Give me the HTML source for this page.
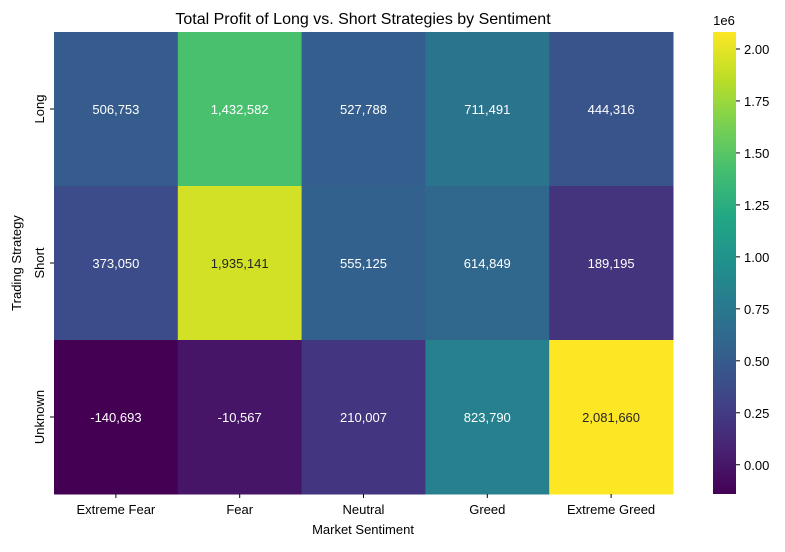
<!DOCTYPE html>
<html><head><meta charset="utf-8"><style>
body{margin:0;background:#fff;}
svg text{font-family:"Liberation Sans","DejaVu Sans",sans-serif;}
</style></head><body>
<svg id="chart" width="785" height="547" xmlns="http://www.w3.org/2000/svg">
<defs><linearGradient id="cbgrad" x1="0" y1="1" x2="0" y2="0"></linearGradient></defs>
<text x="363" y="24" font-size="16" text-anchor="middle" fill="#000">Total Profit of Long vs. Short Strategies by Sentiment</text>
<g id="cells"></g>
<g id="xaxis"></g>
<g id="yaxis"></g>
<g id="cbar"></g>
<text x="363" y="534" font-size="13" text-anchor="middle">Market Sentiment</text>
<text transform="translate(21,263) rotate(-90)" font-size="13" text-anchor="middle">Trading Strategy</text>
</svg>
<script>
const categories = ["Extreme Fear","Fear","Neutral","Greed","Extreme Greed"];
const strategies = ["Long","Short","Unknown"];
const longValues = [506753,1432582,527788,711491,444316];
const shortValues = [373050,1935141,555125,614849,189195];
const unknownValues = [-140693,-10567,210007,823790,2081660];
const cbTicks = [0,250000,500000,750000,1000000,1250000,1500000,1750000,2000000];
const cbTickLabels = ["0.00","0.25","0.50","0.75","1.00","1.25","1.50","1.75","2.00"];

const rows=[longValues,shortValues,unknownValues];
const NS="http://www.w3.org/2000/svg";
const X0=54,X1=673,Y0=32,Y1=494;
const all=rows.flat();const vmin=Math.min(...all),vmax=Math.max(...all);
const cw=(X1-X0)/categories.length,ch=(Y1-Y0)/strategies.length;
const xs=i=>X0+i*cw, ys=j=>Y0+j*ch;
const vir=[[68,1,84],[72,35,116],[64,67,135],[52,94,141],[41,120,142],[32,144,140],[34,167,132],[68,190,112],[121,209,81],[189,222,38],[253,231,37]];
function color(t){t=Math.max(0,Math.min(1,t));const p=t*(vir.length-1);const i=Math.min(vir.length-2,Math.floor(p));const f=p-i;
const c=vir[i].map((a,k)=>Math.round(a+(vir[i+1][k]-a)*f));return c;}
const rgb=c=>`rgb(${c[0]},${c[1]},${c[2]})`;
function lum(c){const l=c.map(v=>{v/=255;return v<=0.03928?v/12.92:Math.pow((v+0.055)/1.055,2.4)});return 0.2126*l[0]+0.7152*l[1]+0.0722*l[2];}
function mk(tag,attrs,parent){const e=document.createElementNS(NS,tag);for(const k in attrs)e.setAttribute(k,attrs[k]);parent.appendChild(e);return e;}
const cells=document.getElementById('cells');
rows.forEach((r,j)=>r.forEach((v,i)=>{
 const c=color((v-vmin)/(vmax-vmin));
 const rect=mk('rect',{x:xs(i),y:ys(j),width:cw+0.5,height:ch+0.5,fill:rgb(c)},cells);
 
 
 const t=mk('text',{x:xs(i)+cw/2,y:ys(j)+ch/2+5,'font-size':13,'text-anchor':'middle',fill:lum(c)>0.408?'#262626':'#fff'},cells);
 t.textContent=v.toLocaleString('en-US');
 
 
}));
const xa=document.getElementById('xaxis');
categories.forEach((c,i)=>{const x=xs(i)+cw/2;
 mk('line',{x1:x,x2:x,y1:Y1,y2:Y1+4,stroke:'#000'},xa);
 const t=mk('text',{x:x,y:Y1+20,'font-size':13,'text-anchor':'middle'},xa);t.textContent=c;
 
 });
const ya=document.getElementById('yaxis');
strategies.forEach((s,j)=>{const y=ys(j)+ch/2;
 mk('line',{x1:X0-4,x2:X0,y1:y,y2:y,stroke:'#000'},ya);
 const t=mk('text',{transform:`translate(${X0-10},${y}) rotate(-90)`,'font-size':13,'text-anchor':'middle'},ya);t.textContent=s;
 
 });
const g=document.getElementById('cbgrad');
for(let k=0;k<=20;k++){mk('stop',{offset:(k/20),'stop-color':rgb(color(k/20))},g);}
const cb=document.getElementById('cbar');const CX0=713,CX1=736;
const cbr=mk('rect',{x:CX0,y:Y0,width:CX1-CX0,height:Y1-Y0,fill:'url(#cbgrad)'},cb);


const cy=v=>Y1-(v-vmin)/(vmax-vmin)*(Y1-Y0);
cbTicks.forEach((v,k)=>{const y=cy(v);
 mk('line',{x1:CX1,x2:CX1+4,y1:y,y2:y,stroke:'#000'},cb);
 const t=mk('text',{x:CX1+8,y:y+5,'font-size':13},cb);t.textContent=cbTickLabels[k];
 
 });
const oe=mk('text',{x:724,y:25,'font-size':13,'text-anchor':'middle'},cb);oe.textContent='1e6';


</script>
</body></html>
